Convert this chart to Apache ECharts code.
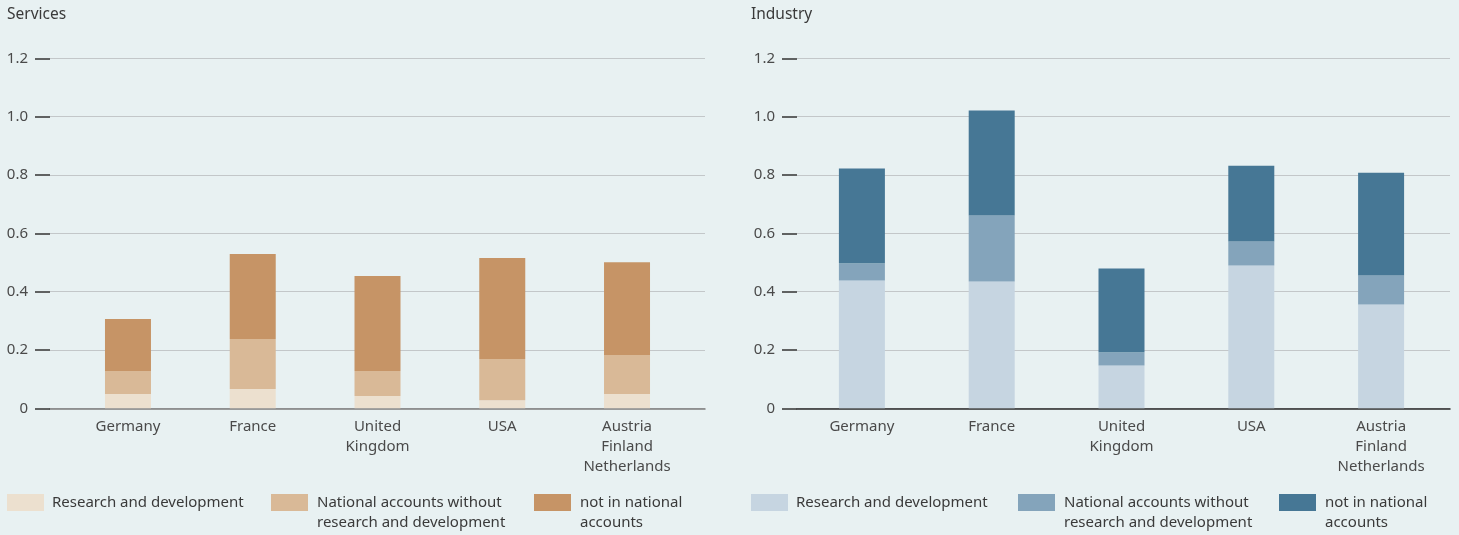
<!DOCTYPE html>
<html>
<head>
<meta charset="utf-8">
<script src="https://cdn.jsdelivr.net/npm/echarts@6/dist/echarts.min.js"></script>
<style>
html,body{margin:0;padding:0;background:#e8f1f2;}
#c{width:1459px;height:535px;}
</style>
</head>
<body>
<div id="c"></div>
<script>
const categories = ['Germany', 'France', 'United\nKingdom', 'USA', 'Austria\nFinland\nNetherlands'];
const legendLabels = ['Research and development', 'National accounts without\nresearch and development', 'not in national\naccounts'];
const panelTitles = ['Services', 'Industry'];

const servicesRD = [0.049, 0.066, 0.042, 0.028, 0.049];
const servicesNA = [0.079, 0.172, 0.086, 0.141, 0.134];
const servicesNot = [0.178, 0.291, 0.326, 0.346, 0.318];

const industryRD = [0.438, 0.435, 0.147, 0.490, 0.356];
const industryNA = [0.059, 0.226, 0.045, 0.082, 0.099];
const industryNot = [0.325, 0.360, 0.287, 0.260, 0.353];

const yMin = 0, yMax = 1.2, yInterval = 0.2;

const servicesColors = ['#ece0cf', '#d9b997', '#c69466'];
const industryColors = ['#c6d5e1', '#84a4bb', '#467795'];

const FONT = 'Noto Sans';
const TXT = '#3a3a3a';

const chart = echarts.init(document.getElementById('c'));

function gridAxes(gridIdx, baseColor) {
  return {
    x: { gridIndex: gridIdx, type: 'value', min: 0, max: 1, show: true,
         axisLine: { show: true, onZero: false, lineStyle: { color: baseColor, width: 1.5 } },
         axisTick: { show: false }, axisLabel: { show: false }, splitLine: { show: false } },
    y: { gridIndex: gridIdx, type: 'value', min: yMin, max: yMax, interval: yInterval,
         axisLine: { show: false },
         axisTick: { show: true, length: 15, lineStyle: { color: '#333', width: 1.5 } },
         axisLabel: { margin: 22, color: '#4a4a4a', fontFamily: FONT, fontSize: 15,
           formatter: v => v === 0 ? '0' : v.toFixed(1) },
         splitLine: { show: true, lineStyle: { color: '#c3c7c9', width: 1.2 } } }
  };
}
function barAxes(gridIdx) {
  return {
    x: { gridIndex: gridIdx, type: 'category', data: categories,
         axisLine: { show: false }, axisTick: { show: false },
         axisLabel: { margin: 8, color: '#4a4a4a', fontFamily: FONT, fontSize: 15, lineHeight: 20, interval: 0 } },
    y: { gridIndex: gridIdx, type: 'value', min: yMin, max: yMax, interval: yInterval, show: false,
         splitLine: { show: false } }
  };
}

const a0 = gridAxes(0, '#7d7d7d'), b1 = barAxes(1), a2 = gridAxes(2, '#2a2a2a'), b3 = barAxes(3);

function mkSeries(prefix, arrs, colors, xi) {
  return arrs.map((d, i) => ({
    name: prefix + '|' + i,
    type: 'bar', stack: prefix, xAxisIndex: xi, yAxisIndex: xi,
    barWidth: 46, data: d,
    itemStyle: { color: colors[i] },
    emphasis: { disabled: true }
  }));
}

const legendX = [[7, 271, 534], [751, 1018, 1279]];
const legends = [];
['S', 'I'].forEach((p, pi) => {
  legendLabels.forEach((lab, i) => {
    const multi = lab.indexOf('\n') >= 0;
    legends.push({
      data: [p + '|' + i],
      left: legendX[pi][i],
      top: multi ? 494 - 21.5 : 494 - 1.5,
      padding: 0,
      itemWidth: 37, itemHeight: 17,
      icon: 'rect',
      selectedMode: false,
      formatter: n => { const t = legendLabels[+n.split('|')[1]]; return t.indexOf('\n') >= 0 ? ' \n' + t : t; },
      textStyle: { color: TXT, fontFamily: FONT, fontSize: 15, lineHeight: 20,
                   padding: multi ? [0, 0, 0, 4] : [0, 0, 0, 3] }
    });
  });
});

chart.setOption({
  animation: false,
  backgroundColor: '#e8f1f2',
  title: [
    { text: panelTitles[0], left: 7, top: 7, padding: 0, textStyle: { fontFamily: FONT, fontSize: 15.5, fontWeight: 'normal', color: TXT } },
    { text: panelTitles[1], left: 751, top: 7, padding: 0, textStyle: { fontFamily: FONT, fontSize: 15.5, fontWeight: 'normal', color: TXT } }
  ],
  legend: legends,
  tooltip: { show: false },
  grid: [
    { left: 50, top: 58.33, width: 655, height: 350 },
    { left: 65.6, top: 58.33, width: 623.8, height: 350 },
    { left: 797, top: 58.33, width: 653, height: 350 },
    { left: 797, top: 58.33, width: 649, height: 350 }
  ],
  xAxis: [a0.x, b1.x, a2.x, b3.x],
  yAxis: [a0.y, b1.y, a2.y, b3.y],
  series: [
    ...mkSeries('S', [servicesRD, servicesNA, servicesNot], servicesColors, 1),
    ...mkSeries('I', [industryRD, industryNA, industryNot], industryColors, 3)
  ]
});
</script>
</body>
</html>
